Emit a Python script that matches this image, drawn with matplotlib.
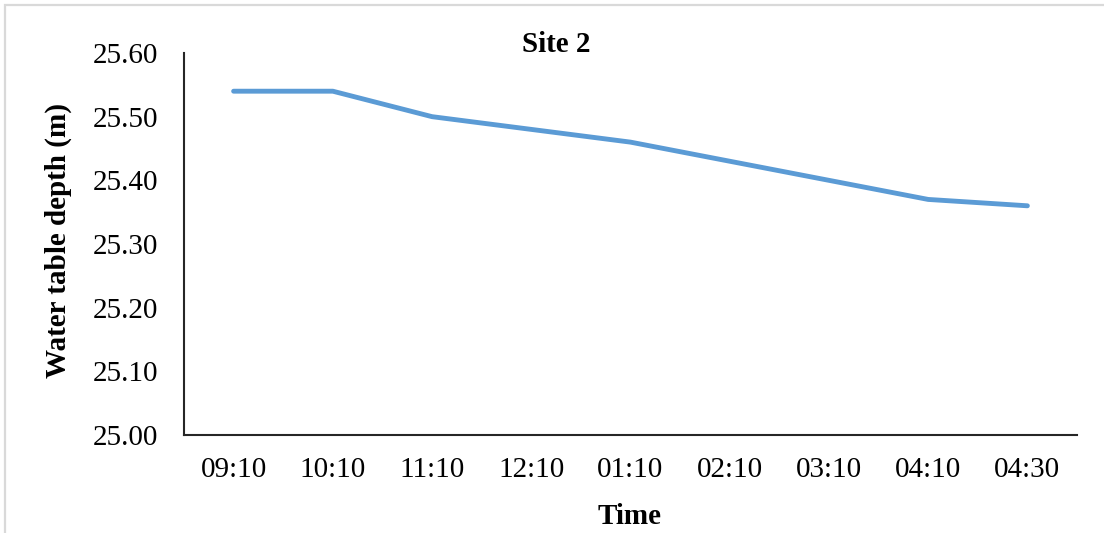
import matplotlib
matplotlib.use("Agg")
import matplotlib.pyplot as plt
from matplotlib.patches import Rectangle

times = ["09:10", "10:10", "11:10", "12:10", "01:10", "02:10", "03:10", "04:10", "04:30"]
depth = [25.54, 25.54, 25.50, 25.48, 25.46, 25.43, 25.40, 25.37, 25.36]
y_ticks = [25.00, 25.10, 25.20, 25.30, 25.40, 25.50, 25.60]

plt.rcParams["font.family"] = ["Liberation Serif", "DejaVu Serif"]

W, H = 1104, 533
fig = plt.figure(figsize=(W / 100, H / 100), dpi=100)
fig.patch.set_facecolor("white")

# light frame around the chart area
fig.patches.append(Rectangle((5.5 / W, -0.1), 1.2, 1.1 - 5 / H, transform=fig.transFigure,
                             fill=False, edgecolor="#d9d9d9", linewidth=1.6))

ax = fig.add_axes([184 / W, (H - 435) / H, (1077 - 184) / W, (435 - 53) / H])
x = list(range(len(times)))
ax.plot(x, depth, color="#5b9bd5", linewidth=3.5, solid_capstyle="round", solid_joinstyle="round")

ax.set_xlim(-0.5, len(times) - 0.5)
ax.set_ylim(25.00, 25.60)
ax.set_yticks(y_ticks)
ax.set_yticklabels([f"{v:.2f}" for v in y_ticks])
ax.set_xticks(x)
ax.set_xticklabels(times)
ax.tick_params(axis="both", length=0, labelsize=21, colors="black")
ax.tick_params(axis="y", pad=18.5)
ax.tick_params(axis="x", pad=15.5)

for side in ("top", "right"):
    ax.spines[side].set_visible(False)
for side in ("left", "bottom"):
    ax.spines[side].set_color("#262626")
    ax.spines[side].set_linewidth(1.5)

fig.text(556 / W, 1 - 44 / H, "Site 2", ha="center", va="center", fontsize=21, fontweight="bold")
fig.text(630 / W, 1 - 517 / H, "Time", ha="center", va="center", fontsize=21, fontweight="bold")
fig.text(58 / W, 1 - 241 / H, "Water table depth (m)", ha="center", va="center",
         rotation=90, fontsize=21, fontweight="bold")

fig.savefig("out.png", dpi=100)
